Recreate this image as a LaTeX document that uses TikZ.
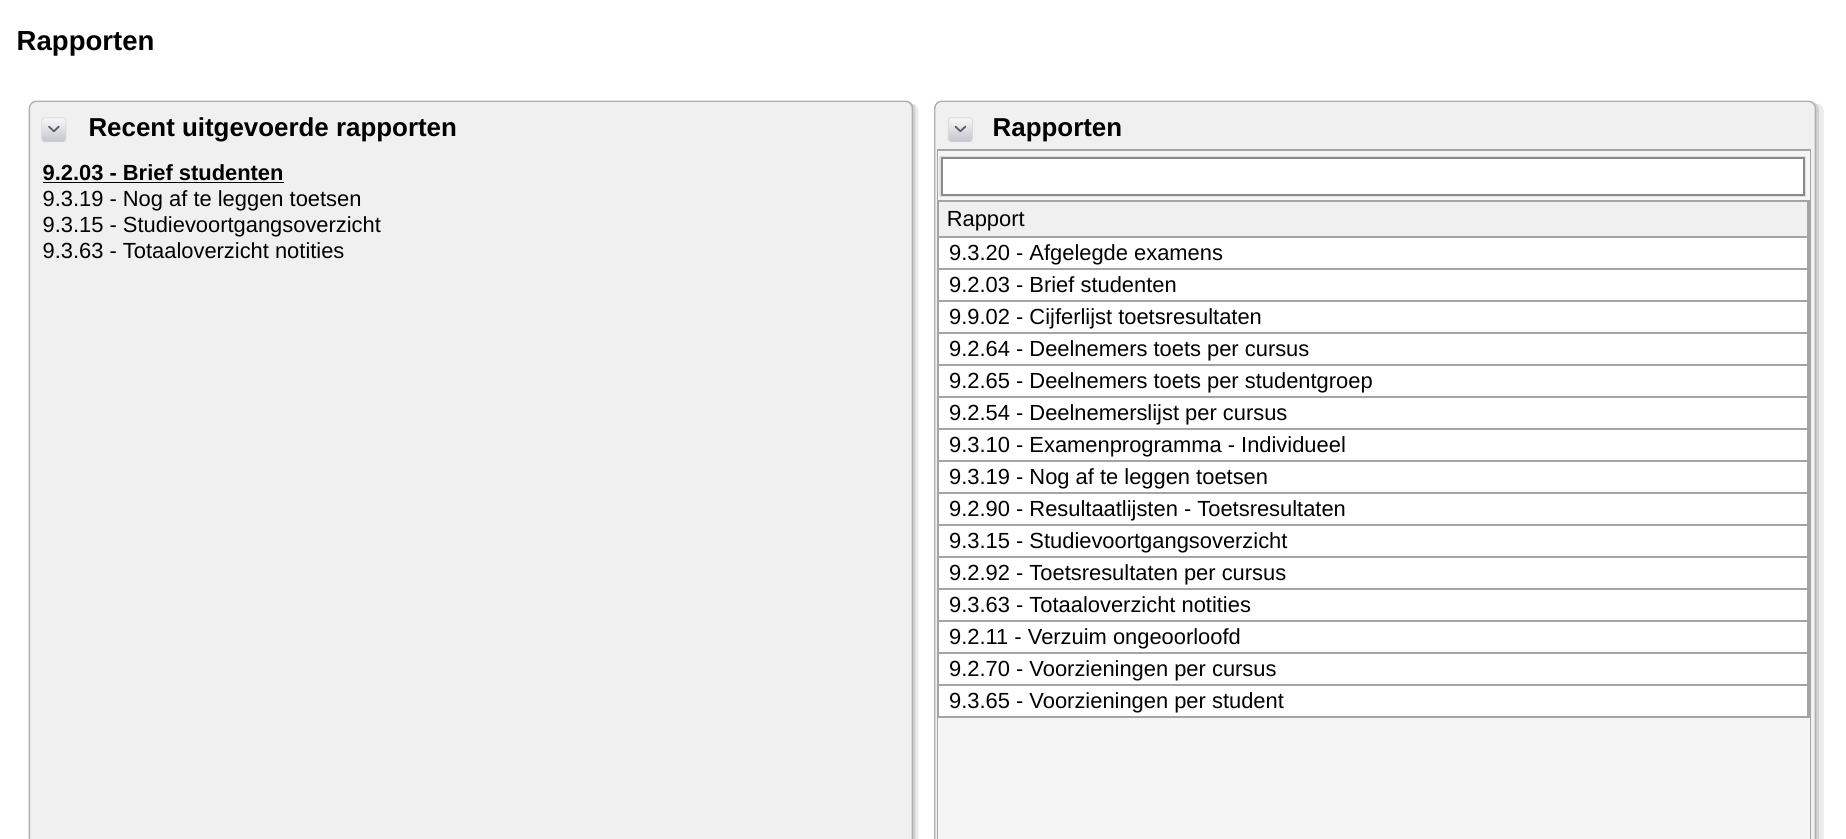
\documentclass[tikz,border=0pt]{standalone}
\usepackage{fontspec}
\setmainfont{Liberation Sans}
\definecolor{panelbg}{HTML}{F0F0F0}
\definecolor{innerbg}{HTML}{F5F5F5}
\definecolor{panelline}{HTML}{B0B0B0}
\definecolor{rowline}{HTML}{A4A4A4}
\definecolor{boxline}{HTML}{8A8A8A}
\definecolor{btntop}{HTML}{F6F6FA}
\definecolor{btnbot}{HTML}{C4C4CC}
\tikzset{
  panelbox/.style={draw=panelline, line width=1.2pt, fill=panelbg, rounded corners=6pt},
  shadowbox/.style={fill=#1, rounded corners=6pt},
  btn/.style={draw=black!15, line width=0.6pt, rounded corners=2.5pt, top color=btntop, bottom color=btnbot},
  chev/.style={draw=black!65, line width=1.4pt, line cap=round, line join=round},
  titletext/.style={anchor=base west, inner sep=0pt, font=\fontsize{23.4}{28}\selectfont\bfseries},
  headtext/.style={anchor=base west, inner sep=0pt, font=\fontsize{22}{26}\selectfont\bfseries},
  itemtext/.style={anchor=base west, inner sep=0pt, font=\fontsize{18.6}{22}\selectfont},
  rowbox/.style={draw=rowline, line width=1.5pt, fill=white},
  headrow/.style={draw=rowline, line width=1.5pt, fill=panelbg},
}
\begin{document}
\begin{tikzpicture}[x=1pt, y=-1pt]
\useasboundingbox (0,0) rectangle (1568,712);
\clip (0,0) rectangle (1568,712);
\fill[white] (0,0) rectangle (1568,712);

\node[titletext] (title) at (14,43) {Rapporten};

% ---------- left panel ----------
\path[shadowbox=black!8] (27,88) rectangle (780,760);
\path[shadowbox=black!18] (26,87) rectangle (777.5,760);
\path[panelbox] (25,86) rectangle (775,760);
\path[btn] (35.5,100) rectangle (56,120.5);
\draw[chev] (41.5,107.5) -- (45.8,111.5) -- (50,107.5);
\node[headtext] (lhead) at (75,116) {Recent uitgevoerde rapporten};
\node[itemtext, font=\fontsize{18.6}{22}\selectfont\bfseries] (l1) at (36,153.5) {\underline{9.2.03 - Brief studenten}};
\node[itemtext] (l2) at (36,175.5) {9.3.19 - Nog af te leggen toetsen};
\node[itemtext] (l3) at (36,197.5) {9.3.15 - Studievoortgangsoverzicht};
\node[itemtext] (l4) at (36,219.5) {9.3.63 - Totaaloverzicht notities};

% ---------- right panel ----------
\path[shadowbox=black!8] (796,88) rectangle (1549,760);
\path[shadowbox=black!18] (795,87) rectangle (1545,760);
\path[panelbox] (794,86) rectangle (1542,760);
\path[btn] (805.5,100) rectangle (826,120.5);
\draw[chev] (811.5,107.5) -- (815.8,111.5) -- (820,107.5);
\node[headtext] (rhead) at (843,116) {Rapporten};

\draw[draw=rowline, line width=1.3pt, fill=innerbg] (796.5,127.5) rectangle (1538,760);
\draw[draw=black!12, line width=1pt, fill=white] (798.5,133) rectangle (1533.5,167);
\draw[draw=boxline, line width=1.8pt] (800,134.5) rectangle (1532,165.5);
\node[draw=none, inner sep=0pt] (search) at (1166,150) {};

\path[headrow] (797,170.5) rectangle (1536.5,201);
\node[itemtext] (hdr) at (804,192) {Rapport};

\foreach \t [count=\i from 0] in {
  9.3.20 - Afgelegde examens,
  9.2.03 - Brief studenten,
  9.9.02 - Cijferlijst toetsresultaten,
  9.2.64 - Deelnemers toets per cursus,
  9.2.65 - Deelnemers toets per studentgroep,
  9.2.54 - Deelnemerslijst per cursus,
  9.3.10 - Examenprogramma - Individueel,
  9.3.19 - Nog af te leggen toetsen,
  9.2.90 - Resultaatlijsten - Toetsresultaten,
  9.3.15 - Studievoortgangsoverzicht,
  9.2.92 - Toetsresultaten per cursus,
  9.3.63 - Totaaloverzicht notities,
  9.2.11 - Verzuim ongeoorloofd,
  9.2.70 - Voorzieningen per cursus,
  9.3.65 - Voorzieningen per student}{
  \pgfmathsetmacro{\top}{201+27.2*\i}
  \path[rowbox] (797,\top) rectangle (1536.5,\top+27.2);
  \node[itemtext] (row\i) at (806,\top+20) {\t};
}
\draw[draw=rowline, line width=3pt] (1536.5,170.5) -- (1536.5,609);
\end{tikzpicture}
\end{document}
